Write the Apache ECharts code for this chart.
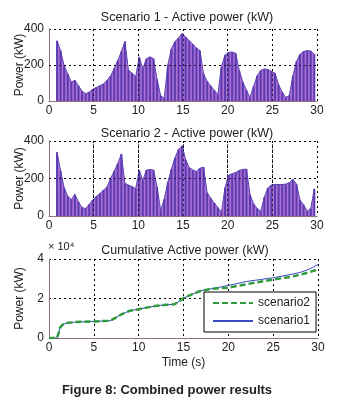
<!DOCTYPE html>
<html>
<head>
<meta charset="utf-8">
<script src="https://cdn.jsdelivr.net/npm/echarts@6/dist/echarts.min.js"></script>
<style>
  html, body { margin: 0; padding: 0; background: #fff; }
  #chart { width: 348px; height: 413px; }
</style>
</head>
<body>
<div id="chart"></div>
<script>
// stripe samples: first stripe at 0.9 s, one every 0.4 s
var stripeStart = 0.9;
var stripeStep = 0.4;

// scenario 1 active power peaks (kW)
var scenario1Power = [
  335, 280, 195, 150, 105, 115, 85, 55, 40, 50,
  65, 75, 85, 95, 115, 140, 180, 225, 275, 330,
  170, 155, 135, 245, 180, 235, 245, 235, 120, 30,
  15, 200, 290, 330, 350, 375, 355, 335, 315, 295,
  280, 150, 110, 85, 60, 35, 190, 255, 270, 272,
  265, 170, 105, 60, 20, 80, 140, 170, 178, 175,
  165, 155, 90, 50, 20, 30, 140, 220, 260, 275,
  280, 278, 260
];

// scenario 2 active power peaks (kW)
var scenario2Power = [
  340, 240, 150, 105, 88, 115, 75, 45, 40, 62,
  85, 105, 120, 138, 155, 200, 240, 280, 330, 175,
  165, 157, 145, 245, 190, 245, 248, 245, 155, 30,
  90, 180, 250, 310, 355, 375, 300, 258, 245, 238,
  255, 260, 125, 95, 70, 45, 20, 150, 218, 225,
  232, 243, 248, 250, 115, 65, 40, 25, 100, 150,
  165, 168, 168, 168, 170, 178, 195, 170, 85, 60,
  25, 40, 145
];

// cumulative active power (x 10^4)
var cumTime = [0, 0.9, 1.0, 1.1, 1.2, 1.5, 2, 3, 5, 6.8, 7.5, 8, 9, 10, 11, 12, 13, 14, 14.5, 15, 16, 17, 18, 19, 20, 22, 25, 27, 28, 29, 30];
var cumScenario1 = [0, 0, 0.02, 0.3, 0.5, 0.67, 0.76, 0.81, 0.84, 0.87, 1.04, 1.18, 1.38, 1.46, 1.55, 1.63, 1.68, 1.71, 1.85, 2.02, 2.22, 2.40, 2.49, 2.57, 2.66, 2.86, 3.05, 3.22, 3.32, 3.48, 3.72];
var cumScenario2 = [0, 0, 0.02, 0.3, 0.5, 0.67, 0.76, 0.81, 0.84, 0.87, 1.04, 1.18, 1.38, 1.46, 1.55, 1.63, 1.68, 1.71, 1.85, 2.02, 2.22, 2.40, 2.48, 2.52, 2.55, 2.72, 2.96, 3.10, 3.20, 3.33, 3.48];

// inner grid lines that show over the power stripes
var innerTimeTicks = [5, 10, 15, 20, 25];
var innerPowerTicks = [200];

var titles = ["Scenario 1 - Active power (kW)", "Scenario 2 - Active power (kW)", "Cumulative Active power (kW)"];
var caption = "Figure 8: Combined power results";

function pairs(values) {
  return values.map(function (v, i) {
    return [+(stripeStart + i * stripeStep).toFixed(2), v];
  });
}

function zip(xs, ys) {
  return xs.map(function (x, i) { return [x, ys[i]]; });
}

var font = "Liberation Sans, Arial, sans-serif";
var dashed = { color: "#000", type: [2, 3], width: 1 };
var gridLine = { show: true, lineStyle: dashed };
var axisLine = { show: true, onZero: false, lineStyle: { color: "#8c7474", width: 1 } };
var labelStyle = { color: "#222", fontSize: 12, fontFamily: font };

function xAxisFor(idx, name) {
  return {
    type: "value", gridIndex: idx, min: 0, max: 30, interval: 5,
    axisLine: axisLine, axisTick: { show: false }, splitLine: gridLine,
    axisLabel: Object.assign({ margin: 4 }, labelStyle),
    name: name || "", nameLocation: "middle", nameGap: 19, nameMoveOverlap: false,
    nameTextStyle: { color: "#222", fontSize: 12, fontFamily: font }
  };
}

function yAxisFor(idx, max, interval) {
  return {
    type: "value", gridIndex: idx, min: 0, max: max, interval: interval,
    axisLine: axisLine, axisTick: { show: false }, splitLine: gridLine,
    axisLabel: Object.assign({ margin: 5 }, labelStyle),
    name: "Power (kW)", nameLocation: "middle", nameGap: 23, nameMoveOverlap: false,
    nameTextStyle: { color: "#222", fontSize: 12, fontFamily: font }
  };
}

function stripes(values, idx) {
  var marks = innerTimeTicks.map(function (t) { return { xAxis: t }; })
    .concat(innerPowerTicks.map(function (p) { return { yAxis: p }; }));
  return [
    {
      type: "line", xAxisIndex: idx, yAxisIndex: idx, data: pairs(values),
      symbol: "none", silent: true, z: 1,
      lineStyle: { color: "#5a44b8", width: 1 },
      areaStyle: { color: "#b070d2", opacity: 1 }
    },
    {
      type: "bar", xAxisIndex: idx, yAxisIndex: idx, data: pairs(values),
      barWidth: 2, silent: true, z: 3,
      itemStyle: { color: "#5a3cb2" },
      markLine: {
        silent: true, symbol: "none", label: { show: false },
        lineStyle: { color: "#000", type: [2, 3], width: 1, opacity: 0.7 },
        data: marks
      }
    }
  ];
}

var chart = echarts.init(document.getElementById("chart"));

var titleStyle = { color: "#222", fontSize: 12.5, fontWeight: "normal", fontFamily: font };

var option = {
  backgroundColor: "#fff",
  animation: false,
  title: [
    { text: titles[0], left: 187, top: 11, textAlign: "center", padding: 0, textStyle: titleStyle },
    { text: titles[1], left: 187, top: 127, textAlign: "center", padding: 0, textStyle: titleStyle },
    { text: titles[2], left: 185, top: 244, textAlign: "center", padding: 0, textStyle: titleStyle },
    { text: caption, left: 167, top: 384, textAlign: "center", padding: 0,
      textStyle: { color: "#222", fontSize: 13, fontWeight: "bold", fontFamily: font } }
  ],
  legend: {
    data: ["scenario2", "scenario1"],
    orient: "vertical",
    left: 204, top: 292,
    padding: [5, 6, 5, 8],
    itemWidth: 40, itemHeight: 10, itemGap: 6,
    itemStyle: { opacity: 0 },
    backgroundColor: "#fff",
    borderColor: "#000", borderWidth: 1, borderRadius: 0,
    textStyle: { color: "#222", fontSize: 12, fontFamily: font }
  },
  grid: [
    { left: 49, top: 29, width: 268, height: 72 },
    { left: 49, top: 141, width: 268, height: 75 },
    { left: 49, top: 259, width: 269, height: 79 }
  ],
  xAxis: [xAxisFor(0), xAxisFor(1), xAxisFor(2, "Time (s)")],
  yAxis: [
    yAxisFor(0, 400, 200),
    yAxisFor(1, 400, 200),
    yAxisFor(2, 4, 2)
  ],
  series: stripes(scenario1Power, 0).concat(stripes(scenario2Power, 1)).concat([
    {
      name: "scenario1", type: "line", xAxisIndex: 2, yAxisIndex: 2,
      data: zip(cumTime, cumScenario1), symbol: "none",
      itemStyle: { color: "#3a4bc4" },
      lineStyle: { color: "#3a4bc4", width: 1 }
    },
    {
      name: "scenario2", type: "line", xAxisIndex: 2, yAxisIndex: 2,
      data: zip(cumTime, cumScenario2), symbol: "none",
      itemStyle: { color: "#2f9a3c" },
      lineStyle: { color: "#2f9a3c", width: 2.5, type: [6, 3] }
    }
  ]),
  graphic: [
    { type: "text", left: 48, top: 241,
      style: { text: "\u00d7 10\u2074", fill: "#222", fontSize: 11, fontFamily: font } }
  ]
};

chart.setOption(option);
</script>
</body>
</html>
